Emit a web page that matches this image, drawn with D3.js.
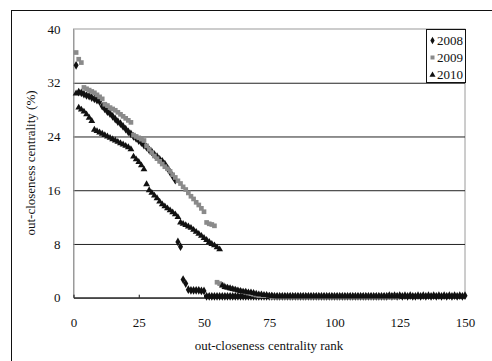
<!DOCTYPE html>
<html><head><meta charset="utf-8">
<script src="https://cdn.jsdelivr.net/npm/d3@7"></script>
<style>
html,body{margin:0;padding:0;background:#fff;}
svg{display:block;}
text{font-family:"Liberation Serif","Times New Roman",serif;fill:#111;}
</style></head>
<body>
<svg id="chart" width="492" height="361"></svg>
<script>
const years = ["2008", "2009", "2010"];
const xTicks = [0, 25, 50, 75, 100, 125, 150];
const yTicks = [0, 8, 16, 24, 32, 40];
const xTitle = "out-closeness centrality rank";
const yTitle = "out-closeness centrality (%)";

// value for rank 1, 2, 3, ...
const series2008 = [
  34.6, 30.6, 30.5, 30.3, 30.1, 30.0, 29.8, 29.6, 29.4, 29.2,
  28.5, 28.1, 27.7, 27.4, 27.0, 26.6, 26.2, 25.9, 25.5, 25.1,
  24.7, 24.4, 24.0, 23.7, 23.4, 23.1, 22.7, 22.4, 22.0, 21.7,
  21.3, 21.0, 20.6, 20.3, 19.9, 19.3, 18.7, 18.1, 17.5, 8.3,
  7.6, 2.7, 2.1, 1.2, 1.1, 1.1, 1.1, 1.1, 1.0, 1.0,
  0.2, 0.2, 0.2, 0.2, 0.2, 0.2, 0.2, 0.2, 0.2, 0.2,
  0.2, 0.2, 0.2, 0.2, 0.2, 0.2, 0.2, 0.2, 0.2, 0.2,
  0.2, 0.2, 0.2, 0.2, 0.2, 0.2, 0.2, 0.2, 0.2, 0.2,
  0.2, 0.2, 0.2, 0.2, 0.2, 0.2, 0.2, 0.2, 0.2, 0.2,
  0.2, 0.2, 0.2, 0.2, 0.2, 0.2, 0.2, 0.2, 0.2, 0.2,
  0.2, 0.2, 0.2, 0.2, 0.2, 0.2, 0.2, 0.2, 0.2, 0.2,
  0.2, 0.2, 0.2, 0.2, 0.2, 0.2, 0.2, 0.2, 0.2, 0.2,
  0.3, 0.2, 0.3, 0.2, 0.3, 0.2, 0.3, 0.2, 0.3, 0.2,
  0.2, 0.3, 0.2, 0.3, 0.2, 0.3, 0.2, 0.3, 0.2, 0.3,
  0.2, 0.3, 0.2, 0.3, 0.2, 0.3, 0.2, 0.3, 0.2, 0.3
];
const series2009 = [
  36.5, 35.5, 35.0, 31.3, 31.1, 30.9, 30.7, 30.5, 30.2, 29.9,
  29.6, 28.8, 28.6, 28.3, 28.1, 27.9, 27.6, 27.3, 27.0, 26.7,
  26.4, 26.1, 24.2, 24.0, 23.8, 23.6, 23.4, 22.6, 22.1, 21.6,
  21.1, 20.7, 20.3, 19.9, 19.5, 19.2, 18.8, 18.3, 17.9, 17.4,
  17.0, 16.5, 16.1, 15.6, 15.1, 14.7, 14.2, 13.8, 13.3, 12.8,
  11.2, 11.0, 10.9, 10.7, 2.3, 2.1, 1.9, 1.6, 1.5, 1.4,
  1.3, 1.2, 1.1, 1.0, 0.9, 0.8, 0.7, 0.6, 0.5, 0.4,
  0.3, 0.3, 0.3, 0.3, 0.3, 0.1, 0.1, 0.1, 0.1, 0.1,
  0.1, 0.1, 0.1, 0.1, 0.1, 0.1, 0.1, 0.1, 0.1, 0.1,
  0.1, 0.1, 0.1, 0.1, 0.1, 0.1, 0.1, 0.1, 0.1, 0.1,
  0.1, 0.1, 0.1, 0.1, 0.1, 0.1, 0.1, 0.1, 0.1, 0.1,
  0.1, 0.1, 0.1, 0.1, 0.1, 0.1, 0.1, 0.1, 0.1, 0.1,
  0.1, 0.1, 0.1, 0.1
];
const series2010 = [
  30.4, 28.3, 28.0, 27.7, 27.3, 26.8, 26.3, 25.0, 24.8, 24.6,
  24.4, 24.2, 24.0, 23.8, 23.6, 23.4, 23.2, 23.0, 22.8, 22.6,
  22.4, 22.1, 21.0, 20.6, 20.2, 19.7, 19.1, 16.9, 16.0, 15.6,
  15.2, 14.8, 14.3, 13.9, 13.6, 13.3, 13.0, 12.7, 12.4, 12.0,
  11.2, 11.0, 10.8, 10.6, 10.4, 10.1, 9.8, 9.5, 9.2, 8.9,
  8.6, 8.3, 8.0, 7.8, 7.5, 7.2, 1.8, 1.6, 1.5, 1.4,
  1.3, 1.2, 1.1, 1.0, 0.9, 0.9, 0.8, 0.8, 0.7, 0.6,
  0.5, 0.5, 0.4, 0.4, 0.3, 0.3, 0.2, 0.2, 0.2, 0.2,
  0.2, 0.2, 0.2, 0.2, 0.2, 0.2, 0.2, 0.2, 0.2, 0.2,
  0.2, 0.2, 0.2, 0.2, 0.2, 0.2, 0.2, 0.2, 0.2, 0.2,
  0.2, 0.2, 0.2, 0.2, 0.2, 0.2, 0.2, 0.2, 0.2, 0.2,
  0.2, 0.2, 0.2, 0.2, 0.2, 0.2, 0.2, 0.2, 0.2, 0.2,
  0.2, 0.2, 0.2, 0.2, 0.2
];

const seriesList = [series2008, series2009, series2010];
const symbolTypes = [d3.symbolDiamond, d3.symbolSquare, d3.symbolTriangle];
const symbolSizes = [22, 22, 20];
const colors = ["#111111", "#8a8a8a", "#111111"];

const svg = d3.select("#chart");
const L = 73.5, R = 465, T = 29, B = 297.7;
const x = d3.scaleLinear().domain([0, 150]).range([L, R]);
const y = d3.scaleLinear().domain([0, 40]).range([B, T]);

// outer frame
svg.append("rect").attr("x", 11.5).attr("y", 10.5).attr("width", 520).attr("height", 400)
  .attr("fill", "none").attr("stroke", "#111").attr("stroke-width", 1);

// plot frame (gray)
svg.append("rect").attr("x", L).attr("y", T).attr("width", R - L).attr("height", B - T)
  .attr("fill", "none").attr("stroke", "#9a9a9a").attr("stroke-width", 1);

// gridlines
const grid = svg.append("g").attr("transform", `translate(${L},0)`)
  .call(d3.axisLeft(y).tickValues([8, 16, 24, 32]).tickSize(-(R - L)).tickFormat(""));
grid.select(".domain").remove();
grid.selectAll("line").attr("stroke", "#222").attr("stroke-width", 1);

// y axis labels
const yAxis = svg.append("g").attr("transform", `translate(${L},0)`)
  .call(d3.axisLeft(y).tickValues(yTicks).tickSize(0).tickPadding(13));
yAxis.select(".domain").attr("stroke", "#9a9a9a");
yAxis.selectAll("text").attr("font-size", 13).attr("font-family", "Liberation Serif").attr("fill", "#111");

// x axis
const xAxis = svg.append("g").attr("transform", `translate(0,${B})`)
  .call(d3.axisBottom(x).tickValues(xTicks).tickSizeInner(-3).tickSizeOuter(0).tickPadding(20));
xAxis.select(".domain").attr("stroke", "#111").attr("stroke-width", 1.3);
xAxis.selectAll("line").attr("stroke", "#111");
xAxis.selectAll("text").attr("font-size", 13).attr("font-family", "Liberation Serif").attr("fill", "#111");

// points
seriesList.forEach((vals, i) => {
  svg.append("g").selectAll("path").data(vals).join("path")
    .attr("transform", (d, k) => `translate(${x(k + 1)},${y(d)})`)
    .attr("d", d3.symbol().type(symbolTypes[i]).size(symbolSizes[i]))
    .attr("fill", colors[i]);
});

// titles
svg.append("text").attr("x", 269).attr("y", 350).attr("text-anchor", "middle")
  .attr("font-size", 13).text(xTitle);
svg.append("text").attr("transform", "translate(35,163) rotate(-90)").attr("text-anchor", "middle")
  .attr("font-size", 13).text(yTitle);

// legend
const lg = svg.append("g");
lg.append("rect").attr("x", 426.5).attr("y", 29.5).attr("width", 39).attr("height", 53)
  .attr("fill", "#fff").attr("stroke", "#111").attr("stroke-width", 1);
const rowY = [40.5, 57.5, 75];
years.forEach((yr, i) => {
  lg.append("path").attr("transform", `translate(432.5,${rowY[i]})`)
    .attr("d", d3.symbol().type(symbolTypes[i]).size(16)).attr("fill", colors[i]);
  lg.append("text").attr("x", 437).attr("y", rowY[i]).attr("dy", "0.35em")
    .attr("font-size", 12).attr("textLength", 26).attr("lengthAdjust", "spacingAndGlyphs").text(yr);
});
</script>
</body></html>
